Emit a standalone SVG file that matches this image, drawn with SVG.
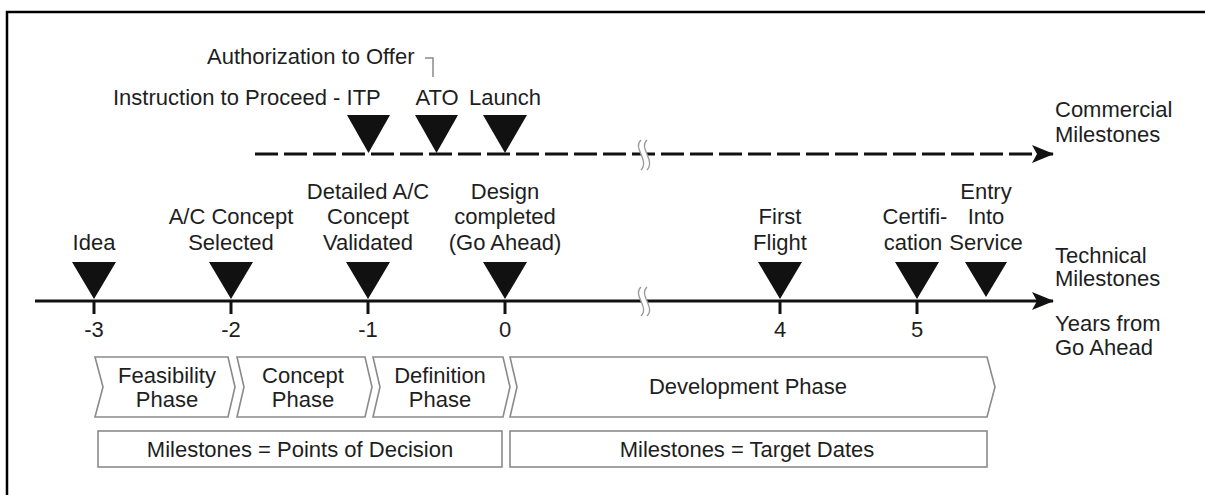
<svg xmlns="http://www.w3.org/2000/svg" width="1205" height="495" viewBox="0 0 1205 495">
<style>
text{font-family:"Liberation Sans",Arial,sans-serif;font-size:22px;fill:#1e1e1e}
.c{text-anchor:middle}
.tri{fill:#111}
.ph{fill:#fff;stroke:#8a8a8a;stroke-width:1.6}
.ax{stroke:#111;stroke-width:3;fill:none}
.brk{fill:none;stroke:#9a9a9a;stroke-width:1.3}
</style>
<defs>
<marker id="ah" markerWidth="22" markerHeight="20" refX="21" refY="10" orient="auto" markerUnits="userSpaceOnUse">
<path d="M0,1 L22,10 L0,19 L5,10 Z" fill="#111"/>
</marker>
</defs>
<rect x="0" y="0" width="1205" height="495" fill="#fff"/>
<path d="M7,495 V12 H1205" fill="none" stroke="#000" stroke-width="2.5"/>

<g id="connectors">
<line class="ax" x1="255" y1="154" x2="1053" y2="154" stroke-dasharray="23 6" marker-end="url(#ah)"/>
<line class="ax" x1="35" y1="301" x2="1053" y2="301" marker-end="url(#ah)"/>
<g stroke="#111" stroke-width="3">
<line x1="94" y1="301" x2="94" y2="314"/>
<line x1="231" y1="301" x2="231" y2="314"/>
<line x1="368" y1="301" x2="368" y2="314"/>
<line x1="505" y1="301" x2="505" y2="314"/>
<line x1="780" y1="301" x2="780" y2="314"/>
<line x1="917" y1="301" x2="917" y2="314"/>
</g>
<g id="break-commercial">
<path d="M641,140 C632,148 650,160 641,170 L647,170 C656,160 638,148 647,140 Z" fill="#fff" stroke="none"/>
<path class="brk" d="M641,140 C632,148 650,160 641,170"/>
<path class="brk" d="M647,140 C638,148 656,160 647,170"/>
</g>
<g id="break-technical">
<path d="M641,287 C632,295 650,307 641,316 L647,316 C656,307 638,295 647,287 Z" fill="#fff" stroke="none"/>
<path class="brk" d="M641,287 C632,295 650,307 641,316"/>
<path class="brk" d="M647,287 C638,295 656,307 647,316"/>
</g>
<path d="M425,58 H433 V77" fill="none" stroke="#8a8a8a" stroke-width="1.5"/>
</g>

<g id="commercial-labels">
<text x="207" y="64">Authorization to Offer</text>
<text x="113" y="105">Instruction to Proceed - ITP</text>
<text x="1055" y="117">Commercial</text>
<text x="1055" y="142">Milestones</text>
</g>
<g id="itp"><polygon class="tri" points="347,115 390,115 368.5,153"/></g>
<g id="ato"><text class="c" x="437" y="105">ATO</text><polygon class="tri" points="415,115 458,115 436.5,153"/></g>
<g id="launch"><text class="c" x="505" y="105">Launch</text><polygon class="tri" points="483,115 527,115 505,153"/></g>

<g id="idea"><text class="c" x="94" y="250">Idea</text><polygon class="tri" points="72,262 116,262 94,299"/></g>
<g id="ac-selected"><text class="c" x="231" y="224">A/C Concept</text><text class="c" x="231" y="250">Selected</text><polygon class="tri" points="209,262 253,262 231,299"/></g>
<g id="ac-validated"><text class="c" x="368" y="199">Detailed A/C</text><text class="c" x="368" y="224">Concept</text><text class="c" x="368" y="250">Validated</text><polygon class="tri" points="346,262 390,262 368,299"/></g>
<g id="design-completed"><text class="c" x="505" y="199">Design</text><text class="c" x="505" y="224">completed</text><text class="c" x="505" y="250">(Go Ahead)</text><polygon class="tri" points="483,262 527,262 505,299"/></g>
<g id="first-flight"><text class="c" x="780" y="224">First</text><text class="c" x="780" y="250">Flight</text><polygon class="tri" points="758,262 802,262 780,299"/></g>
<g id="certification"><text class="c" x="915" y="224">Certifi-</text><text class="c" x="913" y="250">cation</text><polygon class="tri" points="895,262 939,262 917,299"/></g>
<g id="eis"><text class="c" x="986" y="199">Entry</text><text class="c" x="986" y="224">Into</text><text class="c" x="986" y="250">Service</text><polygon class="tri" points="965,262 1007,262 986,297"/></g>

<g id="axis-labels">
<text x="1055" y="263">Technical</text>
<text x="1055" y="286">Milestones</text>
<text x="1055" y="331">Years from</text>
<text x="1055" y="355">Go Ahead</text>
<text class="c" x="94" y="337">-3</text>
<text class="c" x="231" y="337">-2</text>
<text class="c" x="368" y="337">-1</text>
<text class="c" x="505" y="337">0</text>
<text class="c" x="780" y="337">4</text>
<text class="c" x="917" y="337">5</text>
</g>

<g id="feasibility"><polygon class="ph" points="95,357 228,357 235,387 228,417 95,417 103,387"/><text class="c" x="167" y="383">Feasibility</text><text class="c" x="167" y="407">Phase</text></g>
<g id="concept"><polygon class="ph" points="237,357 365,357 372,387 365,417 237,417 244,387"/><text class="c" x="303" y="383">Concept</text><text class="c" x="303" y="407">Phase</text></g>
<g id="definition"><polygon class="ph" points="373,357 503,357 510,387 503,417 373,417 380,387"/><text class="c" x="440" y="383">Definition</text><text class="c" x="440" y="407">Phase</text></g>
<g id="development"><polygon class="ph" points="510,357 987,357 995,387 987,417 510,417 517,387"/><text class="c" x="748" y="394">Development Phase</text></g>

<g id="decision"><rect class="ph" x="98" y="431" width="404" height="36"/><text class="c" x="300" y="457">Milestones = Points of Decision</text></g>
<g id="target"><rect class="ph" x="510" y="431" width="477" height="36"/><text class="c" x="747" y="457">Milestones = Target Dates</text></g>
</svg>
